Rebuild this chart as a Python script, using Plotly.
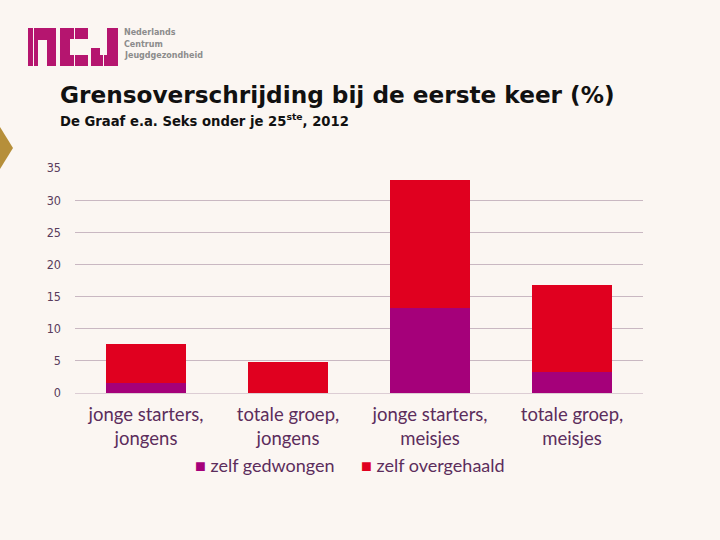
import plotly.graph_objects as go

# ---- data ----
categories = ["jonge starters,<br>jongens", "totale groep,<br>jongens",
              "jonge starters,<br>meisjes", "totale groep,<br>meisjes"]
zelf_gedwongen = [1.5, 0.0, 13.2, 3.3]
zelf_overgehaald = [6.1, 4.9, 19.9, 13.5]
series_names = ["zelf gedwongen", "zelf overgehaald"]
y_ticks = [0, 5, 10, 15, 20, 25, 30, 35]

# ---- style ----
W, H = 720, 540
ML, MR, MT, MB = 75, 77, 168, 147
PW, PH = W - ML - MR, H - MT - MB
BG = "#fbf6f2"
PURPLE = "#a5007a"
RED = "#e0001f"
TXT = "#5c2d5c"


def px(x):
    return (x - ML) / PW


def py(y):
    return (H - MB - y) / PH


def path(points):
    return "M" + " L".join(f"{px(a):.5f},{py(b):.5f}" for a, b in points) + " Z"


fig = go.Figure()
colors = [PURPLE, RED]
for name, vals, col in zip(series_names, [zelf_gedwongen, zelf_overgehaald], colors):
    fig.add_trace(go.Bar(x=categories, y=vals, name=name,
                         marker=dict(color=col, line=dict(width=0))))

shapes = []
# gold diamond on the left edge
shapes.append(dict(type="path", xref="paper", yref="paper",
                   path=path([(0, 127), (13, 148), (0, 169)]),
                   fillcolor="#b68f3a", line=dict(width=0), layer="above"))
# logo "ncj"
MAG = "#b5156f"
n_pts = [(28, 66), (28, 28), (56, 28), (56, 66), (47, 66), (47, 40), (38, 40), (38, 66)]
c_pts = [(60, 28), (88, 28), (88, 39), (70, 39), (70, 55), (88, 55), (88, 66), (60, 66)]
j_pts = [(107, 28), (118, 28), (118, 66), (91, 66), (91, 48), (100, 48), (100, 55), (107, 55)]
for pts in (n_pts, c_pts, j_pts):
    shapes.append(dict(type="path", xref="paper", yref="paper", path=path(pts),
                       fillcolor=MAG, line=dict(width=0), layer="above"))
# stencil gaps
for (x0, y0, x1, y1) in [(33, 28, 34, 66), (74, 28, 75, 39), (74, 55, 75, 66),
                         (103, 55, 104, 66)]:
    shapes.append(dict(type="rect", xref="paper", yref="paper",
                       x0=px(x0), x1=px(x1), y0=py(y0), y1=py(y1),
                       fillcolor=BG, line=dict(width=0), layer="above"))

annotations = []
for i, t in enumerate(["Nederlands", "Centrum", "Jeugdgezondheid"]):
    annotations.append(dict(text=f"<b>{t}</b>", xref="paper", yref="paper",
                            x=px(122), y=py(33 + 11 * i), xanchor="left", yanchor="middle",
                            showarrow=False,
                            font=dict(family="DejaVu Sans", size=8, color="#8c8c8c")))
annotations.append(dict(text="<b>Grensoverschrijding bij de eerste keer (%)</b>",
                        xref="paper", yref="paper", x=px(58), y=py(94),
                        xanchor="left", yanchor="middle", showarrow=False,
                        font=dict(family="DejaVu Sans", size=23.2, color="#111111")))
annotations.append(dict(text="<b>De Graaf e.a. Seks onder je 25<sup>ste</sup>, 2012</b>",
                        xref="paper", yref="paper", x=px(58), y=py(120),
                        xanchor="left", yanchor="middle", showarrow=False,
                        font=dict(family="DejaVu Sans", size=13.2, color="#111111")))

# legend (drawn as text with coloured squares)
leg_x = [193, 359]
for name, col, lx in zip(series_names, colors, leg_x):
    annotations.append(dict(text=f"<span style='color:{col}'>■</span> {name}",
                            xref="paper", yref="paper", x=px(lx), y=py(465),
                            xanchor="left", yanchor="middle", showarrow=False,
                            font=dict(family="Lato", size=18, color=TXT)))

fig.update_layout(
    width=W, height=H,
    margin=dict(l=ML, r=MR, t=MT, b=MB, pad=0),
    paper_bgcolor=BG, plot_bgcolor=BG,
    barmode="stack", bargap=0.435,
    showlegend=False,
    xaxis=dict(tickfont=dict(family="Lato", size=18.5, color=TXT), showgrid=False,
               showline=False, ticks="", ticklabelstandoff=8),
    yaxis=dict(range=[0, 35], tickvals=y_ticks, showgrid=True, gridcolor="#c9b8c2",
               gridwidth=1, zeroline=True, zerolinecolor="#dccdd4", zerolinewidth=1,
               showline=False, ticks="", ticklabelstandoff=13,
               tickfont=dict(family="DejaVu Sans Condensed", size=12.5, color="#5a3c5c")),
    shapes=shapes,
    annotations=annotations,
)

fig.write_html("out.html", config={"displayModeBar": False},
               post_script="document.body.style.margin='0';document.body.style.overflow='hidden';")
